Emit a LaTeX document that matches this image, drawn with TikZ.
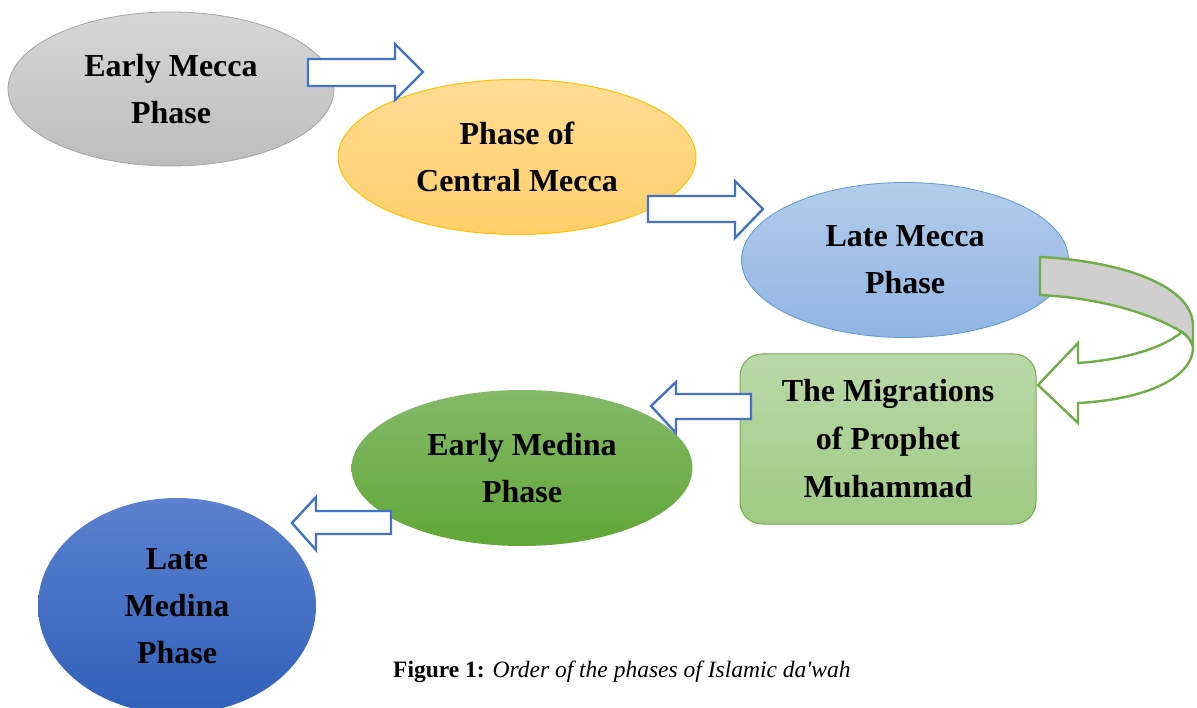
\documentclass[tikz,border=0pt]{standalone}
\usepackage{fontspec}
\setmainfont{Liberation Serif}
\usetikzlibrary{shapes.geometric}
\definecolor{grayT}{HTML}{D6D6D6}
\definecolor{grayB}{HTML}{BDBDBD}
\definecolor{grayD}{HTML}{A5A5A5}
\definecolor{goldT}{HTML}{FFDC95}
\definecolor{goldB}{HTML}{FFCF6A}
\definecolor{goldD}{HTML}{FFC000}
\definecolor{lblueT}{HTML}{B2CCEA}
\definecolor{lblueB}{HTML}{90B5E2}
\definecolor{lblueD}{HTML}{5B9BD5}
\definecolor{lgreenT}{HTML}{BAD8A8}
\definecolor{lgreenB}{HTML}{A0CA84}
\definecolor{greenD}{HTML}{70AD47}
\definecolor{mgreenT}{HTML}{83B968}
\definecolor{mgreenB}{HTML}{61A737}
\definecolor{dblueT}{HTML}{5C81CE}
\definecolor{dblueB}{HTML}{2F60BA}
\definecolor{arrowblue}{HTML}{4472C4}
\definecolor{bandgray}{HTML}{CFCFCF}
\begin{document}
\begin{tikzpicture}[x=1pt,y=-1pt,
  phase/.style={ellipse, inner sep=0pt, align=center,
    font=\fontsize{32}{47}\selectfont\bfseries, shading=axis},
  blockarrow/.style={draw=arrowblue, line width=2.4pt, fill=white, line join=miter},
  curvearrow/.style={draw=greenD, line width=2.4pt, line join=miter},
]
\useasboundingbox (0,0) rectangle (1197,708);
\clip (0,0) rectangle (1197,708);

% phase nodes
\node[phase, minimum width=326, minimum height=154, top color=grayT, bottom color=grayB,
  draw=grayD, line width=0.8pt] (em) at (171,89) {Early Mecca\\Phase};
\node[phase, minimum width=358, minimum height=155, top color=goldT, bottom color=goldB,
  draw=goldD, line width=1pt] (cm) at (517,157) {Phase of\\Central Mecca};
\node[phase, minimum width=327, minimum height=155, top color=lblueT, bottom color=lblueB,
  draw=lblueD, line width=0.8pt] (lm) at (905,260) {Late Mecca\\Phase};
\node[rectangle, rounded corners=22pt, inner sep=0pt, align=center,
  font=\fontsize{32}{48}\selectfont\bfseries, shading=axis,
  top color=lgreenT, bottom color=lgreenB, draw=greenD, line width=1pt,
  minimum width=296, minimum height=170] (mig) at (888,439)
  {The Migrations\\of Prophet\\Muhammad};
\node[phase, minimum width=341, minimum height=156, top color=mgreenT, bottom color=mgreenB]
  (emd) at (522,468) {Early Medina\\Phase};
\node[phase, minimum width=278, minimum height=216, top color=dblueT, bottom color=dblueB]
  (lmd) at (177,606) {Late\\Medina\\Phase};

% block arrows
\draw[blockarrow] (308,59) -- (395,59) -- (395,44) -- (423,72) -- (395,100) -- (395,86) -- (308,86) -- cycle;
\draw[blockarrow] (648,196) -- (735,196) -- (735,181) -- (763,209) -- (735,238) -- (735,222) -- (648,222) -- cycle;
\draw[blockarrow] (751,394) -- (676,394) -- (676,382) -- (651,406) -- (676,433) -- (676,419) -- (751,419) -- cycle;
\draw[blockarrow] (391,511) -- (316,511) -- (316,497) -- (292,523) -- (316,550) -- (316,534) -- (391,534) -- cycle;

% curved arrow from Late Mecca to the Migrations
\coordinate (c1) at (1040,257);
\coordinate (c2) at (1040,295);
\draw[curvearrow, fill=bandgray] (c1) .. controls (1120,261) and (1192,285) .. (1193,325)
  -- (1193,347) .. controls (1191,340) and (1187,336) .. (1182,332)
  .. controls (1150,313) and (1100,298) .. (c2) -- cycle;
\draw[curvearrow, fill=white] (1182,332) .. controls (1160,350) and (1120,360) .. (1078,363)
  -- (1078,343) -- (1038,385) -- (1078,423) -- (1078,403)
  .. controls (1140,400) and (1193,380) .. (1193,347)
  .. controls (1191,340) and (1187,336) .. (1182,332) -- cycle;

% caption
\node[anchor=west, inner sep=0pt, font=\fontsize{23.5}{27}\selectfont] (cap) at (393,672)
  {\textbf{Figure 1:} \textit{Order of the phases of Islamic da\textquotesingle wah}};
\end{tikzpicture}
\end{document}
